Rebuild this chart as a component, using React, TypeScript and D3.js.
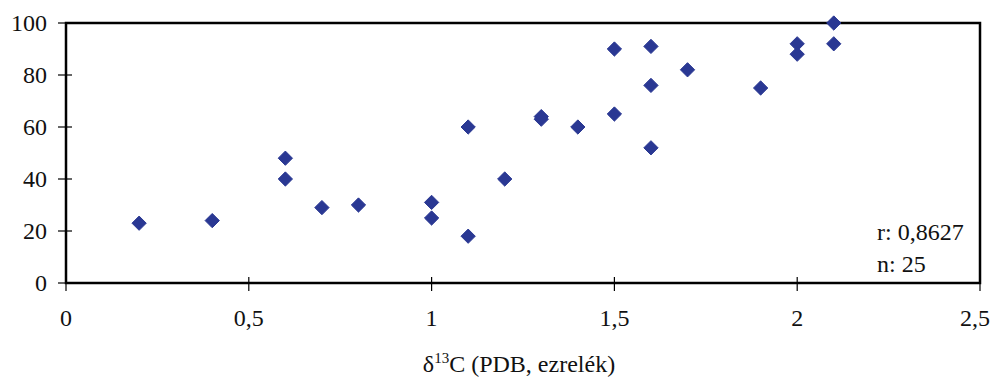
import React, { useEffect, useRef } from 'react';
import * as d3 from 'd3';

const xValues = [0.2, 0.4, 0.6, 0.6, 0.7, 0.8, 1.0, 1.0, 1.1, 1.1, 1.2, 1.3, 1.3, 1.4, 1.5, 1.5, 1.6, 1.6, 1.6, 1.7, 1.9, 2.0, 2.0, 2.1, 2.1];
const yValues = [23, 24, 48, 40, 29, 30, 31, 25, 60, 18, 40, 63, 64, 60, 90, 65, 91, 76, 52, 82, 75, 92, 88, 100, 92];
const xTicks = [0, 0.5, 1, 1.5, 2, 2.5];
const yTicks = [0, 20, 40, 60, 80, 100];
const statLines = ['r: 0,8627', 'n: 25'];
const xTitle = 'C (PDB, ezrelék)';

export default function App() {
  const svgRef = useRef<SVGSVGElement>(null);
  const width = 999;
  const height = 384;

  useEffect(() => {
    const svg = d3.select(svgRef.current);
    svg.selectAll('*').remove();

    const margin = { top: 23, right: 19, bottom: 101, left: 66 };
    const innerWidth = width - margin.left - margin.right;
    const innerHeight = height - margin.top - margin.bottom;
    const font = 'Liberation Serif';
    const fontSize = 24;

    const xScale = d3.scaleLinear().domain([0, 2.5]).range([0, innerWidth]);
    const yScale = d3.scaleLinear().domain([0, 100]).range([innerHeight, 0]);

    const g = svg.append('g')
      .attr('transform', `translate(${margin.left},${margin.top})`)
      .attr('font-family', font)
      .attr('font-size', fontSize);

    // Frame
    g.append('rect')
      .attr('width', innerWidth)
      .attr('height', innerHeight)
      .attr('fill', 'white')
      .attr('stroke', '#000')
      .attr('stroke-width', 2.5);

    // Y axis ticks + labels
    const yAxis = g.append('g');
    yAxis.selectAll('line')
      .data(yTicks)
      .join('line')
      .attr('x1', -8)
      .attr('x2', 6)
      .attr('y1', d => yScale(d))
      .attr('y2', d => yScale(d))
      .attr('stroke', '#000')
      .attr('stroke-width', 1.2);
    yAxis.selectAll('text')
      .data(yTicks)
      .join('text')
      .attr('x', -19)
      .attr('y', d => yScale(d))
      .attr('dy', '0.34em')
      .attr('text-anchor', 'end')
      .attr('fill', '#111')
      .text(d => d);

    // X axis ticks + labels
    const xAxis = g.append('g').attr('transform', `translate(0,${innerHeight})`);
    xAxis.selectAll('line')
      .data(xTicks)
      .join('line')
      .attr('x1', d => xScale(d))
      .attr('x2', d => xScale(d))
      .attr('y1', -6)
      .attr('y2', 8)
      .attr('stroke', '#000')
      .attr('stroke-width', 1.2);
    xAxis.selectAll('text')
      .data(xTicks)
      .join('text')
      .attr('x', d => xScale(d) - (d === 2.5 ? 5 : 0))
      .attr('y', 43)
      .attr('text-anchor', 'middle')
      .attr('fill', '#111')
      .text(d => String(d).replace('.', ','));

    // X axis title with superscript
    const title = g.append('text')
      .attr('x', innerWidth / 2 - 4)
      .attr('y', innerHeight + 89)
      .attr('text-anchor', 'middle')
      .attr('fill', '#111');
    title.append('tspan').text('δ');
    title.append('tspan').attr('dy', -9).attr('font-size', 15).text('13');
    title.append('tspan').attr('dy', 9).text(xTitle);

    // Points as diamonds
    const diamond = d3.symbol().type(d3.symbolDiamond2).size(130);
    g.selectAll('path.pt')
      .data(xValues.map((x, i) => ({ x, y: yValues[i] })))
      .join('path')
      .attr('class', 'pt')
      .attr('d', diamond)
      .attr('transform', d => `translate(${xScale(d.x)},${yScale(d.y)})`)
      .attr('fill', '#2a3893')
      .attr('stroke', '#2a3893')
      .attr('stroke-width', 1)
      .attr('stroke-linejoin', 'round');

    // Stats annotation
    g.selectAll('text.stat')
      .data(statLines)
      .join('text')
      .attr('class', 'stat')
      .attr('x', innerWidth - 103)
      .attr('y', (d, i) => 217 + i * 32)
      .attr('fill', '#111')
      .text(d => d);
  }, []);

  return (
    <svg
      ref={svgRef}
      width={width}
      height={height}
      style={{ position: 'absolute', left: 0, top: 0, background: 'white' }}
    />
  );
}
